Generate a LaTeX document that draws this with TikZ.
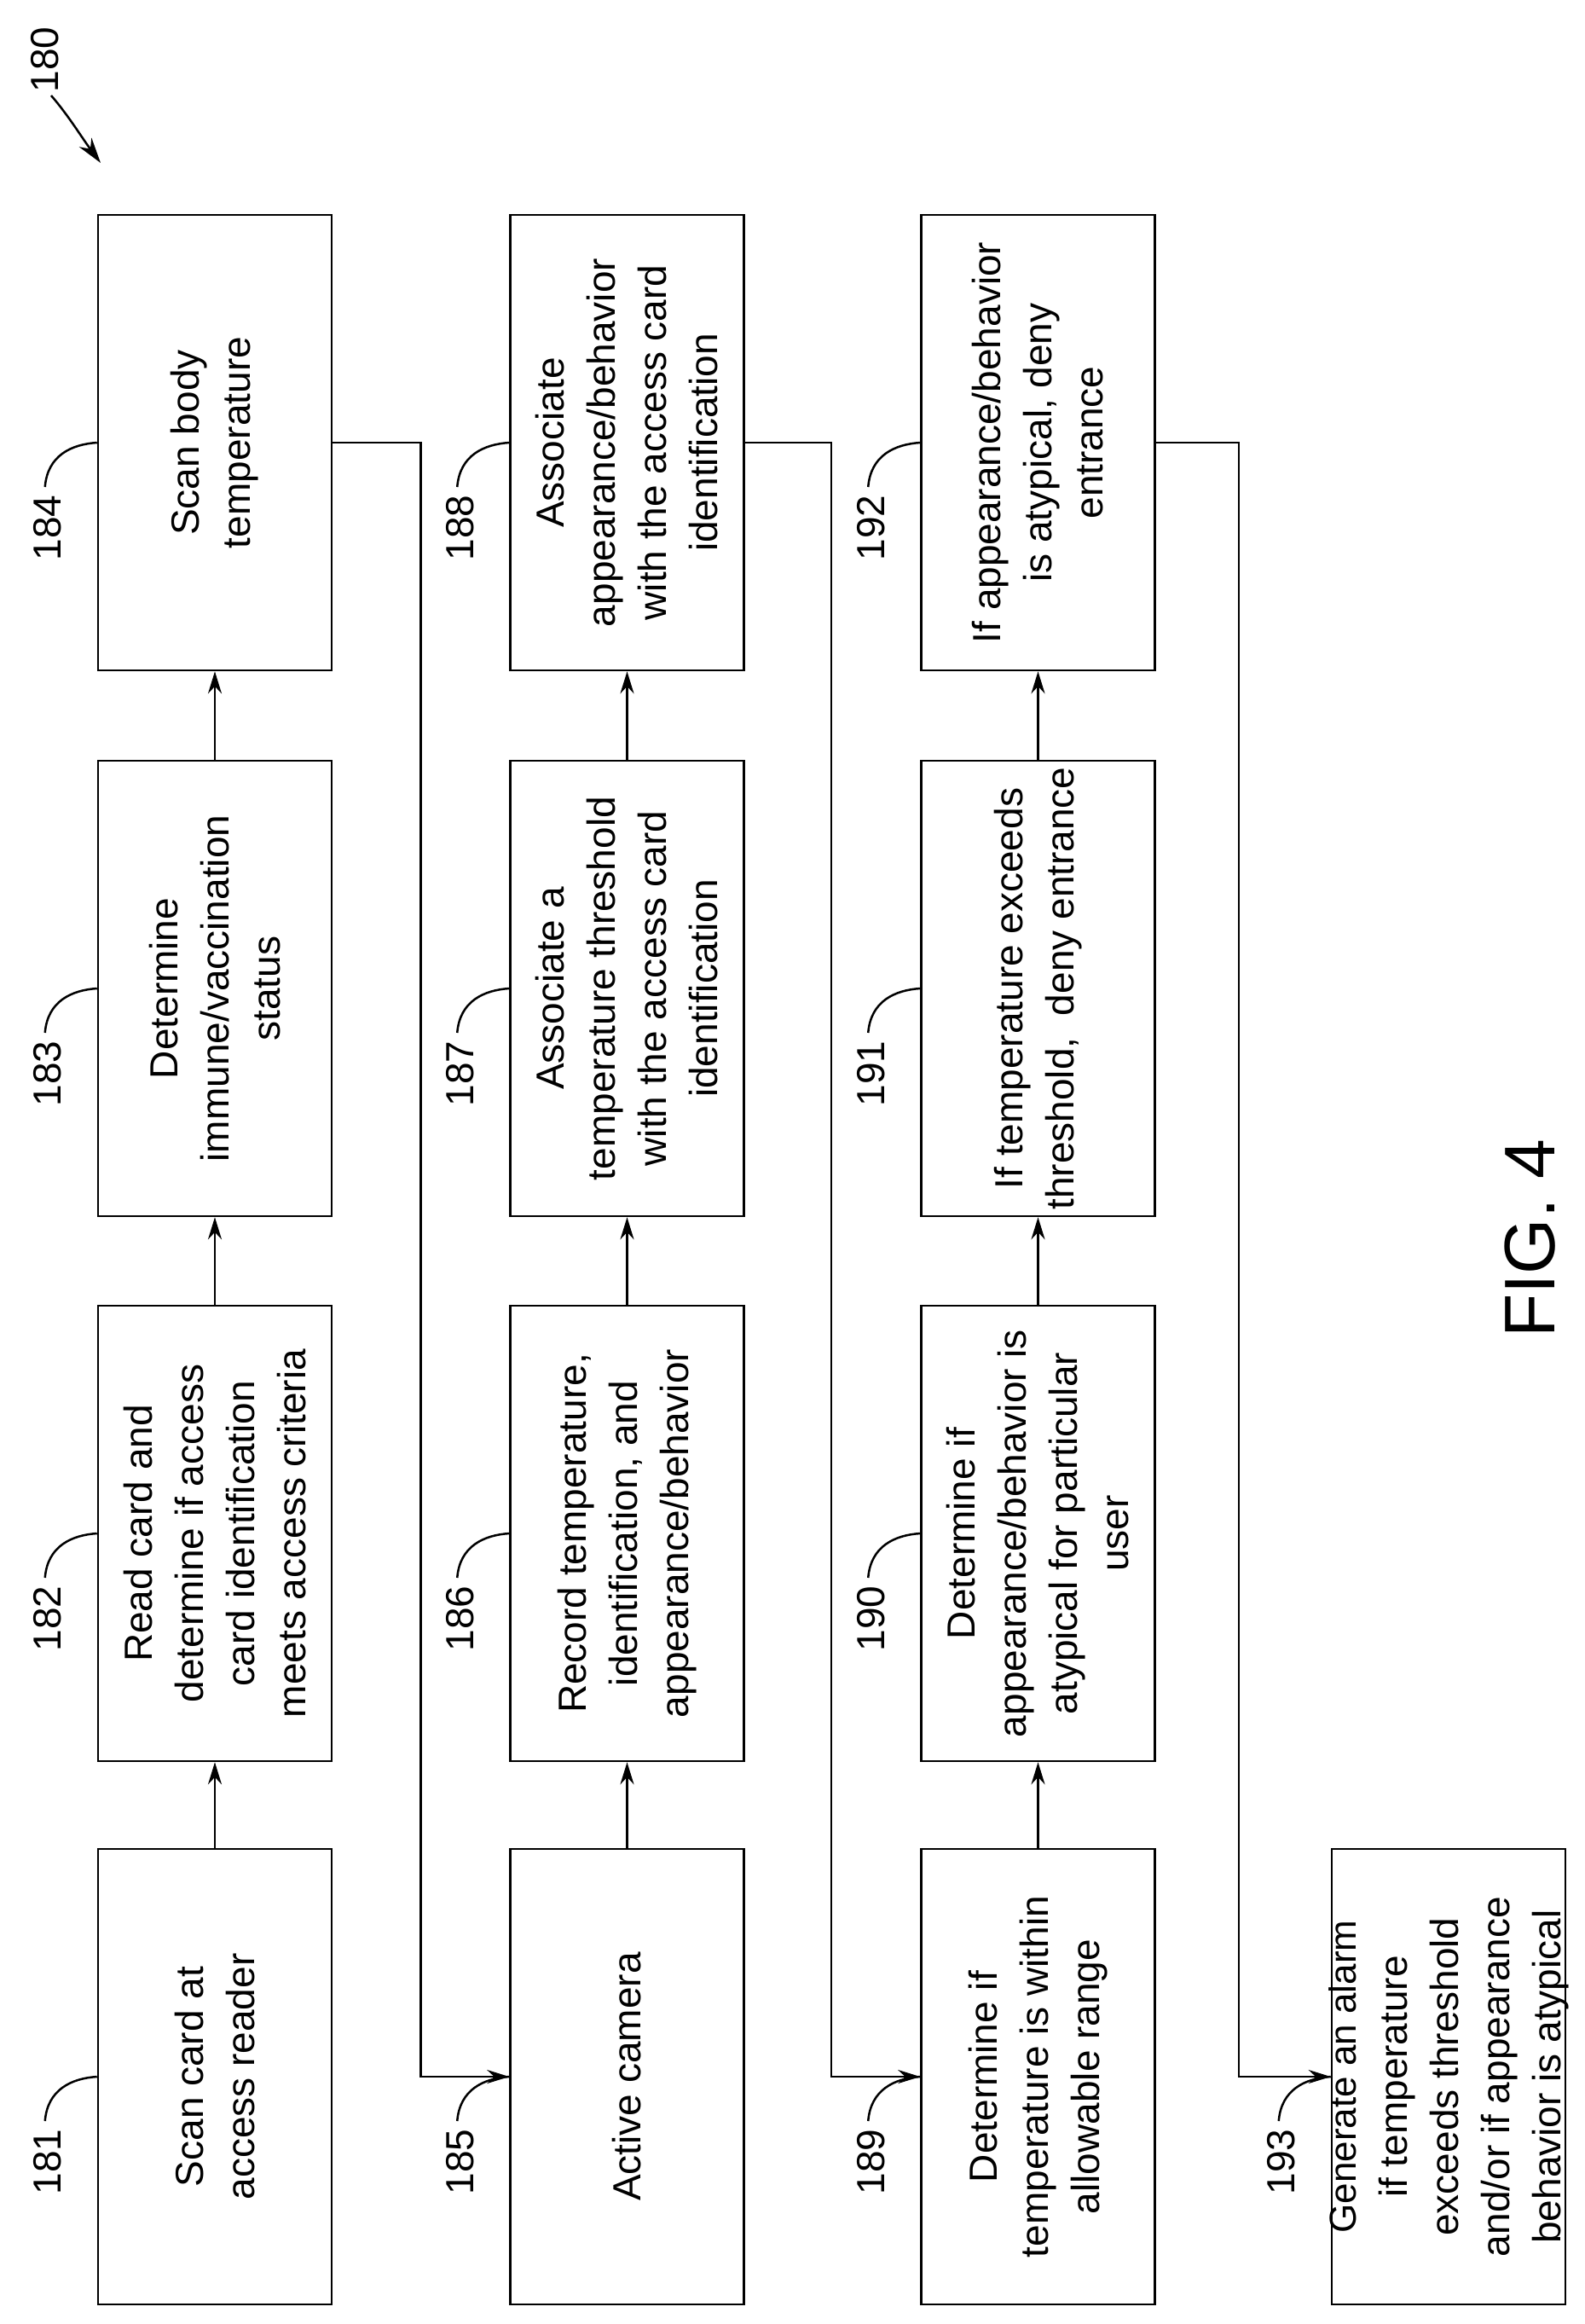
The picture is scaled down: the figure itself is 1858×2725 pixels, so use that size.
\documentclass[tikz,border=0pt]{standalone}
\usepackage{fontspec}
\setmainfont{Liberation Sans}
\usetikzlibrary{arrows.meta}
\begin{document}
\begin{tikzpicture}[x=1pt,y=-1pt,
  box/.style={draw,line width=2.5pt,minimum width=274pt,minimum height=534pt,inner sep=0pt},
  txt/.style={rotate=90,align=center,font=\fontsize{46}{60}\selectfont},
  lab/.style={rotate=90,font=\fontsize{46}{56}\selectfont},
  arr/.style={line width=2.5pt,-{Stealth[length=26pt,width=16pt]}},
  lead/.style={line width=2.5pt}]
\useasboundingbox (0,0) rectangle (1858,2725);
\def\boxat#1#2#3#4{%
  \node[box] (b#1) at (#2,#3) {};
  \node[txt] (t#1) at (b#1.center) {#4};
  \coordinate (w#1) at (b#1.west);
  \node[lab] (l#1) at ([xshift=-58pt,yshift=-100pt]w#1) {#1};
  \draw[lead] ([xshift=-61pt,yshift=-52pt]w#1) .. controls ([xshift=-58pt,yshift=-15pt]w#1) and ([xshift=-30pt,yshift=-2pt]w#1) .. (w#1);}
\boxat{184}{252}{519}{Scan body\\temperature}
\boxat{183}{252}{1159}{Determine\\immune/vaccination\\status}
\boxat{182}{252}{1798}{Read card and\\determine if access\\card identification\\meets access criteria}
\boxat{181}{252}{2435}{Scan card at\\access reader}
\boxat{188}{735.5}{519}{Associate\\appearance/behavior\\with the access card\\identification}
\boxat{187}{735.5}{1159}{Associate a\\temperature threshold\\with the access card\\identification}
\boxat{186}{735.5}{1798}{Record temperature,\\identification, and\\appearance/behavior}
\boxat{185}{735.5}{2435}{Active camera}
\boxat{192}{1217.5}{519}{If appearance/behavior\\is atypical, deny\\entrance}
\boxat{191}{1217.5}{1159}{If temperature exceeds\\threshold,\ \ deny entrance}
\boxat{190}{1217.5}{1798}{Determine if\\appearance/behavior is\\atypical for particular\\user}
\boxat{189}{1217.5}{2435}{Determine if\\temperature is within\\allowable range}
\boxat{193}{1699}{2435}{\fontsize{44}{58}\selectfont Generate an alarm\\if temperature\\exceeds threshold\\and/or if appearance\\behavior is atypical}
\foreach \a/\b in {181/182,182/183,183/184,185/186,186/187,187/188,189/190,190/191,191/192}
  \draw[arr] (b\a.north) -- (b\b.south);
\draw[arr] (b184.east) -- ++(103,0) |- (b185.west);
\draw[arr] (b188.east) -- ++(101,0) |- (b189.west);
\draw[arr] (b192.east) -- ++(97,0) |- (b193.west);
\node[lab] (l180) at (53,70) {180};
\coordinate (a180) at (118,191);
\draw[lead,-{Stealth[length=30pt,width=18pt]}] (60,112) .. controls (80,135) and (95,160) .. (a180);
\node[rotate=90,font=\fontsize{84}{90}\selectfont] (fig) at (1795,1452) {FIG. 4};
\end{tikzpicture}
\end{document}
